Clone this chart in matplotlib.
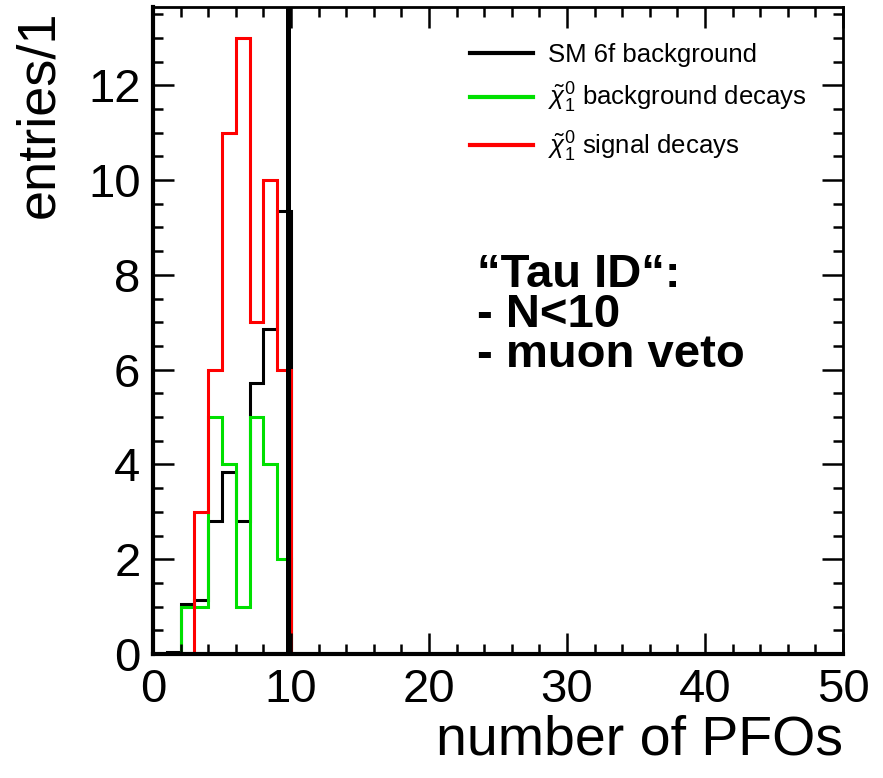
import numpy as np
import matplotlib.pyplot as plt
from matplotlib.lines import Line2D
from matplotlib.ticker import MultipleLocator

plt.rcParams['font.family'] = ['Liberation Sans', 'DejaVu Sans']
plt.rcParams['mathtext.fontset'] = 'custom'
plt.rcParams['mathtext.rm'] = 'Liberation Sans'
plt.rcParams['mathtext.it'] = 'Liberation Sans:italic'

# bin edges: 0..50, width 1
bin_edges = np.arange(0, 51, 1)

# entries per bin (bins 0-9, all later bins empty)
sm_6f_bkg = [0, 0.05, 1.05, 1.14, 2.8, 3.85, 2.8, 5.72, 6.85, 9.35] + [0] * 40
chi_bkg = [0, 0, 1, 1, 5, 4, 1, 5, 4, 2] + [0] * 40
chi_sig = [0, 0, 0, 3, 6, 11, 13, 7, 10, 6] + [0] * 40

cut_value = 9.8
legend_labels = ['SM 6f background',
                 r'$\tilde{\chi}^{0}_{1}$ background decays',
                 r'$\tilde{\chi}^{0}_{1}$ signal decays']
colors = ['black', '#00e000', '#ff0000']

fig = plt.figure(figsize=(8.83, 7.78), dpi=100)
ax = fig.add_axes([153 / 883, 1 - 654 / 778, 690 / 883, 647 / 778])

# histograms, black first, red on top
ax.stairs(sm_6f_bkg, bin_edges, color=colors[0], lw=2.2)
ax.stairs(chi_bkg, bin_edges, color=colors[1], lw=2.2)
ax.stairs(chi_sig, bin_edges, color=colors[2], lw=2.2)

# cut line
ax.axvline(cut_value, color='black', lw=3.6, zorder=5)

ax.set_xlim(0, 50)
ax.set_ylim(0, 13.65)

ax.xaxis.set_major_locator(MultipleLocator(10))
ax.xaxis.set_minor_locator(MultipleLocator(2))
ax.yaxis.set_major_locator(MultipleLocator(2))
ax.yaxis.set_minor_locator(MultipleLocator(0.5))

ax.tick_params(which='both', direction='in', top=True, right=True, width=1.8)
ax.tick_params(which='major', length=15, labelsize=34)
ax.tick_params(which='minor', length=7.5)
ax.tick_params(axis='x', which='major', pad=10)
ax.tick_params(axis='y', which='major', pad=9)

for side in ['left', 'bottom']:
    ax.spines[side].set_linewidth(3)
for side in ['top', 'right']:
    ax.spines[side].set_linewidth(2)

ax.set_xlabel('number of PFOs', fontsize=40, loc='right')
ax.xaxis.set_label_coords(1.0, -0.094)
ax.set_ylabel('entries/1', fontsize=39, loc='top')
ax.yaxis.set_label_coords(-0.128, 0.995)

# legend (no frame, top right)
handles = [Line2D([], [], color=c, lw=3) for c in colors]
ax.legend(handles, legend_labels, loc='upper left', bbox_to_anchor=(0.445, 0.96),
          frameon=False, fontsize=18.5, handlelength=2.45, handletextpad=0.56,
          labelspacing=0.55, borderaxespad=0)

# cut description
ax.text(0.469, 0.5677, '\u201cTau ID\u201c:', transform=ax.transAxes,
        fontsize=34, fontweight='bold', va='baseline')
ax.text(0.469, 0.5059, '- N<10', transform=ax.transAxes,
        fontsize=34, fontweight='bold', va='baseline')
ax.text(0.469, 0.4441, '- muon veto', transform=ax.transAxes,
        fontsize=34, fontweight='bold', va='baseline')

plt.savefig('out.png', dpi=100)
